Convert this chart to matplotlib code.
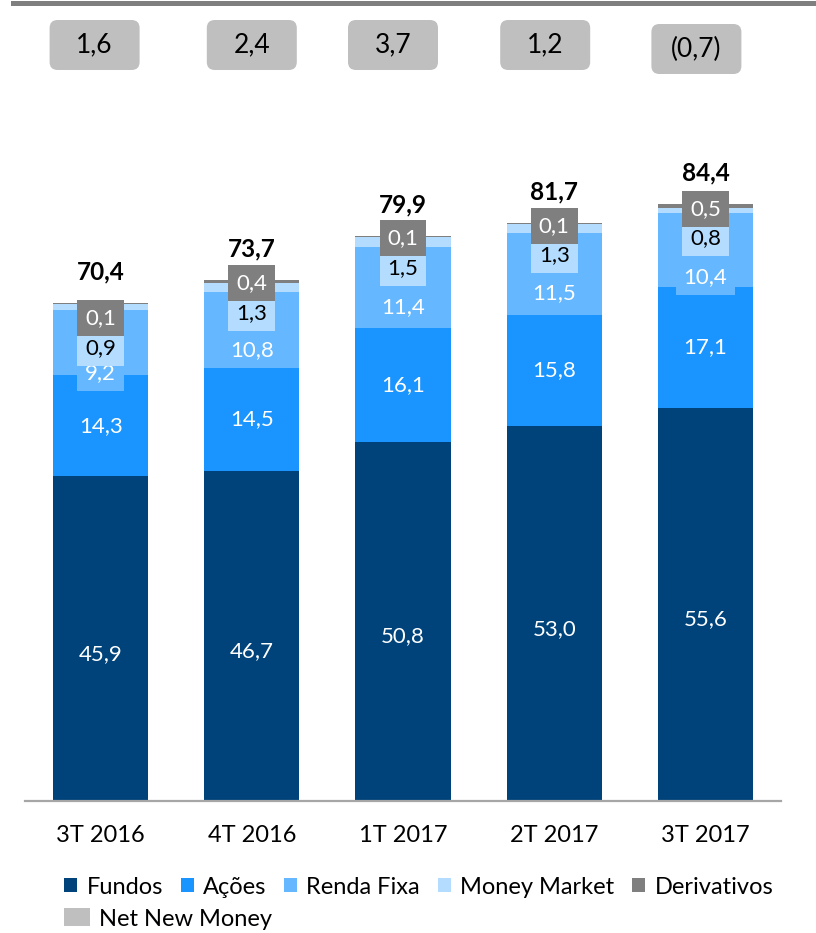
import numpy as np
import matplotlib
matplotlib.use("Agg")
import matplotlib.pyplot as plt
from matplotlib.patches import FancyBboxPatch, Patch
import matplotlib.transforms as mtransforms

plt.rcParams['font.family'] = ['Lato', 'DejaVu Sans']

# ---------------- data ----------------
categories = ['3T 2016', '4T 2016', '1T 2017', '2T 2017', '3T 2017']
fundos = [45.9, 46.7, 50.8, 53.0, 55.6]
acoes = [14.3, 14.5, 16.1, 15.8, 17.1]
renda_fixa = [9.2, 10.8, 11.4, 11.5, 10.4]
money_market = [0.9, 1.3, 1.5, 1.3, 0.8]
derivativos = [0.1, 0.4, 0.1, 0.1, 0.5]
net_new_money = [1.6, 2.4, 3.7, 1.2, -0.7]

series_names = ['Fundos', 'Ações', 'Renda Fixa', 'Money Market', 'Derivativos']
colors = ['#00437A', '#1A94FF', '#65B8FF', '#B3DCFF', '#7F7F7F']
nnm_color = '#BFBFBF'

# ---------------- style / layout ----------------
W, H, DPI = 816, 933, 100
FS = 16
FS_TICK = 17
FS_LEG = 17
FS_TOTAL = 17.5
FS_NNM = 19
PX_PER_UNIT = 7.07
BASE_PX = 801

# label offsets (pixels below bar top)
off_deriv = [15, 3, 2, 3, 5]
off_mm = [45, 33, 32, 32, 34]
off_rf = [70, 70, 71, 70, 73]
nnm_dx = [-6, 0, -10, -9, -9]
nnm_cy = [45, 45, 45, 45, 49]


def fmt(v):
    s = f"{abs(v):.1f}".replace('.', ',')
    return f"({s})" if v < 0 else s


fig = plt.figure(figsize=(W / DPI, H / DPI), dpi=DPI)
ax = fig.add_axes([25 / W, (H - BASE_PX) / H, 756 / W, BASE_PX / H])
ax.set_xlim(-0.5, 4.5)
ax.set_ylim(0, BASE_PX / PX_PER_UNIT)

x = np.arange(len(categories))
series = [fundos, acoes, renda_fixa, money_market, derivativos]
bottom = np.zeros(len(categories))
for vals, col, name in zip(series, colors, series_names):
    ax.bar(x, vals, width=0.63, bottom=bottom, color=col, label=name, linewidth=0)
    bottom = bottom + np.array(vals)
totals = bottom

for s in ['top', 'right', 'left']:
    ax.spines[s].set_visible(False)
ax.spines['bottom'].set_color('#A6A6A6')
ax.spines['bottom'].set_linewidth(1.6)
ax.set_yticks([])
ax.set_xticks(x)
ax.set_xticklabels(categories, fontsize=FS_TICK)
ax.tick_params(axis='x', length=0, pad=17.5)

# ---------------- data labels ----------------
bpad = 'square,pad=0.36'
for i in range(len(categories)):
    f = fundos[i]
    ax.annotate(fmt(f), xy=(x[i], f / 2), xytext=(0, -15), textcoords='offset pixels',
                ha='center', va='center', color='white', fontsize=FS)
    a = acoes[i]
    ax.annotate(fmt(a), xy=(x[i], f + a / 2), xytext=(0, 0), textcoords='offset pixels',
                ha='center', va='center', color='white', fontsize=FS)
    t = totals[i]
    ax.annotate(fmt(renda_fixa[i]), xy=(x[i], t), xytext=(0, -off_rf[i]), textcoords='offset pixels',
                ha='center', va='center', color='white', fontsize=FS,
                bbox=dict(boxstyle=bpad, fc=colors[2], ec='none'))
    ax.annotate(fmt(money_market[i]), xy=(x[i], t), xytext=(0, -off_mm[i]), textcoords='offset pixels',
                ha='center', va='center', color='black', fontsize=FS,
                bbox=dict(boxstyle=bpad, fc=colors[3], ec='none'))
    ax.annotate(fmt(derivativos[i]), xy=(x[i], t), xytext=(0, -off_deriv[i]), textcoords='offset pixels',
                ha='center', va='center', color='white', fontsize=FS,
                bbox=dict(boxstyle=bpad, fc=colors[4], ec='none'))
    ax.annotate(fmt(round(t, 1)), xy=(x[i], t), xytext=(0, 31), textcoords='offset pixels',
                ha='center', va='center', color='black', fontsize=FS_TOTAL, fontweight='bold')

# ---------------- net new money boxes ----------------
px_tr = mtransforms.Affine2D().scale(1 / DPI) + fig.dpi_scale_trans
for i, v in enumerate(net_new_money):
    cx = ax.transData.transform((x[i], 0))[0] + nnm_dx[i]
    cy = H - nnm_cy[i]
    bw, bh = 90, 50
    box = FancyBboxPatch((cx - bw / 2, cy - bh / 2), bw, bh,
                         boxstyle='round,pad=0,rounding_size=8',
                         transform=px_tr, fc=nnm_color, ec='none', zorder=2)
    fig.add_artist(box)
    fig.text(cx / W, cy / H, fmt(v), ha='center', va='center', fontsize=FS_NNM, color='black', zorder=3)

# top rule
fig.add_artist(plt.Line2D([13 / W, 1], [1 - 2.5 / H, 1 - 2.5 / H], color='#7F7F7F', lw=3.6,
                          transform=fig.transFigure))

# ---------------- legend ----------------
handles = [Patch(facecolor=c, edgecolor='none', label=n) for c, n in zip(colors, series_names)]
leg1 = fig.legend(handles=handles, loc='center left', bbox_to_anchor=(64 / W, 1 - 887 / H),
                  ncol=5, frameon=False, fontsize=FS_LEG, handlelength=0.55, handleheight=0.55,
                  handletextpad=0.4, columnspacing=0.75, borderaxespad=0, borderpad=0)
nnm_handle = Patch(facecolor=nnm_color, edgecolor='none', label='Net New Money')
leg2 = fig.legend(handles=[nnm_handle], loc='center left', bbox_to_anchor=(64 / W, 1 - 919 / H),
                  frameon=False, fontsize=FS_LEG, handlelength=1.1, handleheight=0.8,
                  handletextpad=0.4, borderaxespad=0, borderpad=0)

fig.savefig('out.png', dpi=DPI)
